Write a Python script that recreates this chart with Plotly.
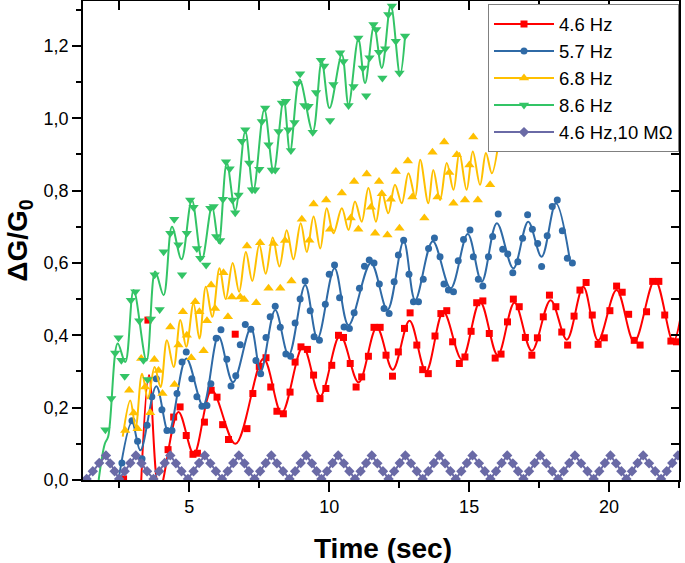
import plotly.graph_objects as go

# ---------------- data ----------------
red_x = [2.65, 3.52, 4.24, 4.44, 4.67, 4.89, 5.13, 5.29, 5.54, 5.78, 5.99, 6.19, 6.40, 6.64,
         7.06, 7.27, 7.50, 7.74, 7.91, 8.13, 8.36, 8.60, 8.78, 8.99, 9.22, 9.44, 9.67, 9.88,
         10.09, 10.33, 10.51, 10.75, 10.96, 11.16, 11.40, 11.60, 11.82, 12.03, 12.26, 12.47,
         12.69, 12.89, 13.13, 13.34, 13.54, 13.78, 13.99, 14.20, 14.41, 14.65, 14.85, 15.07,
         15.27, 15.49, 15.72, 15.93, 16.14, 16.37, 16.58, 16.79, 17.01, 17.24, 17.44, 17.65,
         17.87, 18.10, 18.31, 18.52, 18.75, 18.96, 19.18, 19.40, 19.61, 19.83, 20.03, 20.27,
         20.47, 20.70, 20.90, 21.11, 21.34, 21.56, 21.78, 21.99, 22.21, 22.41]
red_y = [0.003, 0.442, 0.084, 0.174, 0.202, 0.123, 0.071, 0.074, 0.160, 0.248, 0.229, 0.153, 0.112, 0.403,
         0.142, 0.239, 0.314, 0.338, 0.257, 0.190, 0.183, 0.243, 0.326, 0.368, 0.361, 0.290, 0.225, 0.253,
         0.317, 0.400, 0.394, 0.322, 0.257, 0.285, 0.342, 0.422, 0.422, 0.345, 0.287, 0.354,
         0.419, 0.462, 0.373, 0.305, 0.294, 0.398, 0.460, 0.468, 0.382, 0.322, 0.340, 0.411,
         0.490, 0.495, 0.405, 0.337, 0.348, 0.437, 0.500, 0.479, 0.394, 0.345, 0.393, 0.451,
         0.511, 0.479, 0.409, 0.373, 0.453, 0.525, 0.546, 0.456, 0.375, 0.393, 0.468, 0.536,
         0.519, 0.458, 0.386, 0.373, 0.465, 0.549, 0.549, 0.456, 0.384, 0.382]
red_fit_x = [3.27, 3.56, 3.93, 4.61, 5.16, 5.80, 6.65, 7.65, 8.30, 9.06, 9.68, 10.39, 11.05, 11.70,
             12.27, 12.87, 13.46, 14.08, 14.74, 15.39, 16.02, 16.62, 17.24, 17.91, 18.49, 19.08,
             19.61, 20.27, 20.90, 21.64, 22.29, 22.60]
red_fit_y = [-0.02, 0.29, -0.03, 0.188, 0.072, 0.248, 0.10, 0.335, 0.185, 0.368, 0.232, 0.400, 0.270, 0.422,
             0.305, 0.440, 0.300, 0.465, 0.333, 0.493, 0.345, 0.490, 0.357, 0.497, 0.388, 0.534,
             0.386, 0.525, 0.382, 0.553, 0.382, 0.470]

blue_x = [2.59, 2.95, 3.15, 3.31, 3.49, 3.66, 3.82, 4.02, 4.20, 4.38, 4.56, 4.74, 4.89, 5.09, 5.27,
          5.45, 5.63, 5.77, 5.96, 6.13, 6.34, 6.49, 6.66, 6.82, 7.00, 7.20, 7.38, 7.55, 7.74, 7.89,
          8.07, 8.25, 8.45, 8.62, 8.78, 8.96, 9.14, 9.32, 9.46, 9.65, 9.86, 10.00, 10.19, 10.37,
          10.53, 10.72, 10.89, 11.08, 11.26, 11.43, 11.60, 11.79, 11.96, 12.14, 12.32, 12.47, 12.66,
          12.85, 13.01, 13.19, 13.36, 13.55, 13.76, 13.96, 14.10, 14.26, 14.44, 14.61, 14.80, 15.03,
          15.15, 15.33, 15.49, 15.69, 15.84, 16.04, 16.20, 16.38, 16.56, 16.74, 16.91, 17.09, 17.26,
          17.45, 17.59, 17.79, 17.97, 18.15, 18.33, 18.51, 18.69]
blue_y = [0.047, 0.164, 0.107, 0.059, 0.151, 0.230, 0.280, 0.194, 0.137, 0.137, 0.239, 0.326, 0.354, 0.280, 0.230,
          0.204, 0.206, 0.266, 0.392, 0.415, 0.334, 0.260, 0.288, 0.374, 0.430, 0.417, 0.330, 0.294, 0.394, 0.451,
          0.480, 0.422, 0.348, 0.342, 0.434, 0.500, 0.550, 0.468, 0.396, 0.386, 0.486, 0.569, 0.594, 0.504,
          0.423, 0.419, 0.462, 0.530, 0.591, 0.608, 0.600, 0.542, 0.474, 0.460, 0.548, 0.622, 0.663,
          0.569, 0.493, 0.493, 0.555, 0.640, 0.669, 0.617, 0.542, 0.525, 0.520, 0.606, 0.665, 0.691,
          0.617, 0.555, 0.536, 0.617, 0.673, 0.735, 0.638, 0.625, 0.573, 0.603, 0.668, 0.733, 0.693,
          0.654, 0.590, 0.675, 0.756, 0.774, 0.689, 0.613, 0.600]
blue_fit_x = [2.47, 2.95, 3.25, 3.82, 4.26, 4.89, 5.49, 6.04, 6.56, 7.20, 7.55, 8.07, 8.55, 9.14, 9.58,
              10.19, 10.69, 11.49, 12.08, 12.66, 13.07, 13.70, 14.34, 14.95, 15.45, 15.99, 16.58,
              17.11, 17.59, 18.10, 18.60]
blue_fit_y = [0.0, 0.160, 0.082, 0.259, 0.132, 0.336, 0.206, 0.397, 0.270, 0.420, 0.300, 0.470, 0.345, 0.539, 0.391,
              0.585, 0.428, 0.600, 0.470, 0.660, 0.497, 0.660, 0.530, 0.680, 0.548, 0.710, 0.585,
              0.714, 0.617, 0.765, 0.608]

yellow_x = [2.71, 2.85, 3.01, 3.15, 3.28, 3.42, 3.60, 3.75, 3.90, 4.04, 4.32, 4.47, 4.61, 4.77, 4.91,
            5.07, 5.21, 5.36, 5.51, 5.63, 5.78, 5.92, 6.22, 6.38, 6.52, 6.82, 6.96, 7.06, 7.39, 7.53,
            7.83, 8.01, 8.25, 8.42, 8.65, 9.02, 9.29, 9.44, 9.89, 10.03, 10.45, 10.77, 10.89, 11.04,
            11.34, 11.49, 11.64, 11.78, 11.88, 12.08, 12.20, 12.38, 12.51, 12.81, 12.97, 13.40, 13.69,
            13.87, 14.11, 14.29, 14.44, 14.56, 14.85, 15.01, 15.15, 15.31, 15.75]
yellow_y = [0.137, 0.248, 0.185, 0.142, 0.336, 0.257, 0.186, 0.333, 0.303, 0.239, 0.423, 0.264, 0.373, 0.465, 0.400,
            0.338, 0.493, 0.465, 0.357, 0.440, 0.539, 0.474, 0.573, 0.451, 0.506, 0.506, 0.499, 0.647, 0.490, 0.656,
            0.530, 0.654, 0.530, 0.662, 0.550, 0.721, 0.663, 0.763, 0.774, 0.693, 0.793, 0.724, 0.825, 0.693,
            0.846, 0.754, 0.682, 0.825, 0.791, 0.677, 0.776, 0.853, 0.696, 0.882, 0.782, 0.724, 0.906,
            0.782, 0.934, 0.850, 0.765, 0.899, 0.774, 0.871, 0.948, 0.774, 0.816]
yellow_fit_x = [2.62, 2.89, 3.08, 3.31, 3.52, 3.76, 3.97, 4.20, 4.44, 4.68, 4.89, 5.15, 5.36, 5.59, 5.82,
                6.08, 6.30, 6.55, 6.78, 7.02, 7.25, 7.50, 7.73, 7.98, 8.22, 8.48, 8.72, 8.98, 9.20, 9.44,
                9.68, 9.91, 10.15, 10.45, 10.69, 10.92, 11.16, 11.40, 11.67, 11.88, 12.11, 12.35, 12.59,
                12.83, 13.07, 13.25, 13.54, 13.72, 13.96, 14.20, 14.44, 14.65, 14.91, 15.13, 15.39, 15.60,
                15.81, 16.08]
yellow_fit_y = [0.120, 0.220, 0.146, 0.294, 0.225, 0.312, 0.257, 0.386, 0.312, 0.442, 0.368, 0.488, 0.391, 0.534, 0.451,
                0.585, 0.500, 0.600, 0.520, 0.630, 0.550, 0.650, 0.570, 0.670, 0.590, 0.690, 0.610, 0.710, 0.630, 0.728,
                0.640, 0.751, 0.682, 0.751, 0.691, 0.770, 0.714, 0.807, 0.714, 0.797, 0.737, 0.816, 0.765,
                0.848, 0.783, 0.885, 0.765, 0.857, 0.774, 0.876, 0.802, 0.904, 0.802, 0.908, 0.816, 0.904,
                0.848, 0.950]

green_x = [2.00, 2.21, 2.35, 2.47, 2.57, 2.69, 2.91, 3.07, 3.21, 3.36, 3.51, 3.63, 3.76, 3.94, 4.08,
           4.32, 4.46, 4.61, 4.74, 4.91, 5.03, 5.15, 5.27, 5.39, 5.60, 5.75, 5.87, 5.96, 6.10, 6.20,
           6.31, 6.44, 6.54, 6.64, 6.76, 6.88, 7.00, 7.14, 7.24, 7.35, 7.50, 7.59, 7.71, 7.83, 7.95,
           8.07, 8.19, 8.31, 8.45, 8.54, 8.63, 8.76, 8.86, 8.96, 9.11, 9.26, 9.41, 9.53, 9.70, 9.82,
           10.03, 10.15, 10.39, 10.51, 10.69, 10.87, 11.04, 11.20, 11.32, 11.44, 11.58, 11.68, 11.78,
           11.90, 12.00, 12.11, 12.24, 12.38, 12.51, 12.71]
green_y = [0.139, 0.225, 0.351, 0.393, 0.331, 0.287, 0.497, 0.520, 0.440, 0.331, 0.278, 0.445, 0.567, 0.471, 0.631,
           0.682, 0.721, 0.650, 0.567, 0.682, 0.774, 0.754, 0.640, 0.613, 0.594, 0.751, 0.756, 0.673, 0.662, 0.776,
           0.880, 0.860, 0.774, 0.739, 0.788, 0.936, 0.968, 0.876, 0.802, 0.802, 0.859, 0.991, 1.028, 0.927, 0.857,
           0.857, 0.963, 1.042, 1.047, 0.968, 0.911, 0.988, 1.096, 1.123, 1.035, 1.033, 0.961, 1.071, 1.160, 1.144,
           0.994, 1.093, 1.181, 1.157, 1.035, 1.088, 1.222, 1.139, 1.062, 1.167, 1.259, 1.245, 1.182,
           1.111, 1.192, 1.287, 1.310, 1.213, 1.125, 1.227]
green_fit_x = [1.76, 1.98, 2.10, 2.44, 2.71, 3.01, 3.47, 3.78, 4.08, 4.38, 4.72, 5.09, 5.45, 5.81, 6.05,
               6.34, 6.64, 7.00, 7.29, 7.68, 8.01, 8.37, 8.60, 8.94, 9.41, 9.73, 10.01, 10.45, 10.69,
               11.04, 11.28, 11.60, 11.88, 12.20, 12.53, 12.71]
green_fit_y = [0.0, 0.100, 0.120, 0.377, 0.326, 0.525, 0.330, 0.576, 0.511, 0.700, 0.610, 0.774, 0.610, 0.756, 0.655,
               0.876, 0.745, 0.963, 0.802, 1.024, 0.853, 1.051, 0.908, 1.107, 0.963, 1.157, 1.028, 1.176, 1.037,
               1.219, 1.097, 1.254, 1.139, 1.312, 1.120, 1.227]

purple_x = [1.33, 1.55, 1.78, 2.02, 2.17, 2.33,
            2.49, 2.69, 2.89, 3.09, 3.29, 3.49,
            3.72, 3.92, 4.12, 4.32, 4.52, 4.72,
            4.95, 5.15, 5.35, 5.55, 5.75, 5.95,
            6.17, 6.37, 6.57, 6.77, 6.97, 7.13,
            7.33, 7.53, 7.73, 7.93, 8.13, 8.35,
            8.58, 8.78, 8.98, 9.18, 9.38, 9.55,
            9.72, 9.92, 10.12, 10.32, 10.52, 10.72,
            10.92, 11.12, 11.32, 11.52, 11.72, 11.92,
            12.12, 12.32, 12.52, 12.72, 12.92, 13.13,
            13.34, 13.54, 13.74, 13.94, 14.14, 14.33,
            14.52, 14.72, 14.92, 15.12, 15.35, 15.56,
            15.76, 15.96, 16.16, 16.36, 16.56, 16.75,
            16.94, 17.14, 17.34, 17.54, 17.76, 17.97,
            18.18, 18.38, 18.58, 18.78, 19.00, 19.23,
            19.45, 19.65, 19.85, 20.05, 20.25, 20.44,
            20.62, 20.82, 21.02, 21.22, 21.43, 21.65,
            21.86, 22.06, 22.26, 22.46]
purple_y = [0.003, 0.024, 0.047, 0.068, 0.046, 0.024,
            0.003, 0.024, 0.047, 0.068, 0.046, 0.024,
            0.003, 0.024, 0.047, 0.068, 0.046, 0.024,
            0.003, 0.024, 0.047, 0.068, 0.046, 0.024,
            0.003, 0.024, 0.047, 0.068, 0.046, 0.024,
            0.003, 0.024, 0.047, 0.068, 0.046, 0.024,
            0.003, 0.024, 0.047, 0.068, 0.046, 0.024,
            0.003, 0.024, 0.047, 0.068, 0.046, 0.024,
            0.003, 0.024, 0.047, 0.068, 0.046, 0.024,
            0.003, 0.024, 0.047, 0.068, 0.046, 0.024,
            0.003, 0.024, 0.047, 0.068, 0.046, 0.024,
            0.003, 0.024, 0.047, 0.068, 0.046, 0.024,
            0.003, 0.024, 0.047, 0.068, 0.046, 0.024,
            0.003, 0.024, 0.047, 0.068, 0.046, 0.024,
            0.003, 0.024, 0.047, 0.068, 0.046, 0.024,
            0.003, 0.024, 0.047, 0.068, 0.046, 0.024,
            0.003, 0.024, 0.047, 0.068, 0.046, 0.024,
            0.003, 0.024, 0.047, 0.068]

series_names = ["4.6 Hz", "5.7 Hz", "6.8 Hz", "8.6 Hz", "4.6 Hz,10 MΩ"]
series_colors = ["#FF0000", "#2F6AA6", "#FFC000", "#33C466", "#6A6AA6"]
series_symbols = ["square", "circle", "triangle-up", "triangle-down", "diamond"]
series_sizes = [7, 7, 9, 9, 8]

x_range = [1.2, 22.5]
y_range = [0.0, 1.324]

FONT = "Liberation Sans, Arial, sans-serif"

fig = go.Figure()

fitted = [
    (red_x, red_y, red_fit_x, red_fit_y),
    (blue_x, blue_y, blue_fit_x, blue_fit_y),
    (yellow_x, yellow_y, yellow_fit_x, yellow_fit_y),
    (green_x, green_y, green_fit_x, green_fit_y),
]

for i, (mx, my, fx, fy) in enumerate(fitted):
    c = series_colors[i]
    fig.add_trace(go.Scatter(x=fx, y=fy, mode="lines",
                             line=dict(color=c, width=2, shape="spline", smoothing=1.0),
                             showlegend=False, hoverinfo="skip"))
    fig.add_trace(go.Scatter(x=mx, y=my, mode="markers",
                             marker=dict(color=c, symbol=series_symbols[i], size=series_sizes[i]),
                             showlegend=False))
    fig.add_trace(go.Scatter(x=[None], y=[None], mode="lines+markers", name=series_names[i],
                             line=dict(color=c, width=2),
                             marker=dict(color=c, symbol=series_symbols[i], size=series_sizes[i])))

fig.add_trace(go.Scatter(x=purple_x, y=purple_y, mode="lines+markers", name=series_names[4],
                         line=dict(color=series_colors[4], width=2),
                         marker=dict(color=series_colors[4], symbol=series_symbols[4], size=series_sizes[4])))

fig.update_layout(
    width=685, height=563,
    margin=dict(l=83, r=6, t=1, b=83, autoexpand=False),
    paper_bgcolor="white", plot_bgcolor="white",
    separators=",.",
    font=dict(family=FONT, size=18, color="black"),
    showlegend=True,
    legend=dict(x=1.0, xanchor="right", y=0.993, yanchor="top",
                bgcolor="white", bordercolor="#808080", borderwidth=1,
                font=dict(family=FONT, size=18.5, color="black"),
                itemwidth=60, tracegroupgap=0),
    xaxis=dict(range=x_range, dtick=5, tick0=0, ticks="outside", ticklen=10, tickwidth=1.5,
               tickcolor="black", showline=True, linecolor="black", linewidth=1.5,
               showgrid=False, zeroline=False,
               minor=dict(dtick=2.5, tick0=0, ticks="outside", ticklen=6, tickwidth=1.5, tickcolor="black"),
               tickfont=dict(family=FONT, size=18, color="black")),
    yaxis=dict(range=y_range, dtick=0.2, tick0=0, tickformat=".1f", ticks="outside", ticklen=9,
               tickwidth=1.5, tickcolor="black", showline=True, linecolor="black", linewidth=1.5,
               showgrid=False, zeroline=False,
               minor=dict(dtick=0.1, tick0=0, ticks="outside", ticklen=5, tickwidth=1.5, tickcolor="black"),
               tickfont=dict(family=FONT, size=18, color="black")),
    xaxis2=dict(range=x_range, overlaying="x", side="top", dtick=2.5, tick0=0, ticks="inside",
                ticklen=9, tickwidth=1.5, tickcolor="black", showticklabels=False, showline=True,
                linecolor="black", linewidth=1.5, showgrid=False, zeroline=False),
    yaxis2=dict(range=y_range, overlaying="y", side="right", dtick=0.1, tick0=0, ticks="inside",
                ticklen=8, tickwidth=1.5, tickcolor="black", showticklabels=False, showline=True,
                linecolor="black", linewidth=1.5, showgrid=False, zeroline=False),
    annotations=[
        dict(text="<b>Time (sec)</b>", xref="paper", yref="paper", x=0.503, y=-0.142,
             xanchor="center", yanchor="middle", showarrow=False,
             font=dict(family=FONT, size=28, color="black")),
        dict(text="<b>ΔG/G<sub>0</sub></b>", xref="paper", yref="paper", x=-0.107, y=0.5,
             xanchor="center", yanchor="middle", textangle=-90, showarrow=False,
             font=dict(family=FONT, size=28, color="black")),
    ],
)

# invisible anchor trace so the mirrored frame axes are drawn
fig.add_trace(go.Scatter(x=[None], y=[None], xaxis="x2", yaxis="y2", showlegend=False, hoverinfo="skip"))

fig.write_html("out.html", config={"displayModeBar": False},
               post_script="document.body.style.margin='0';document.body.style.overflow='hidden';")
